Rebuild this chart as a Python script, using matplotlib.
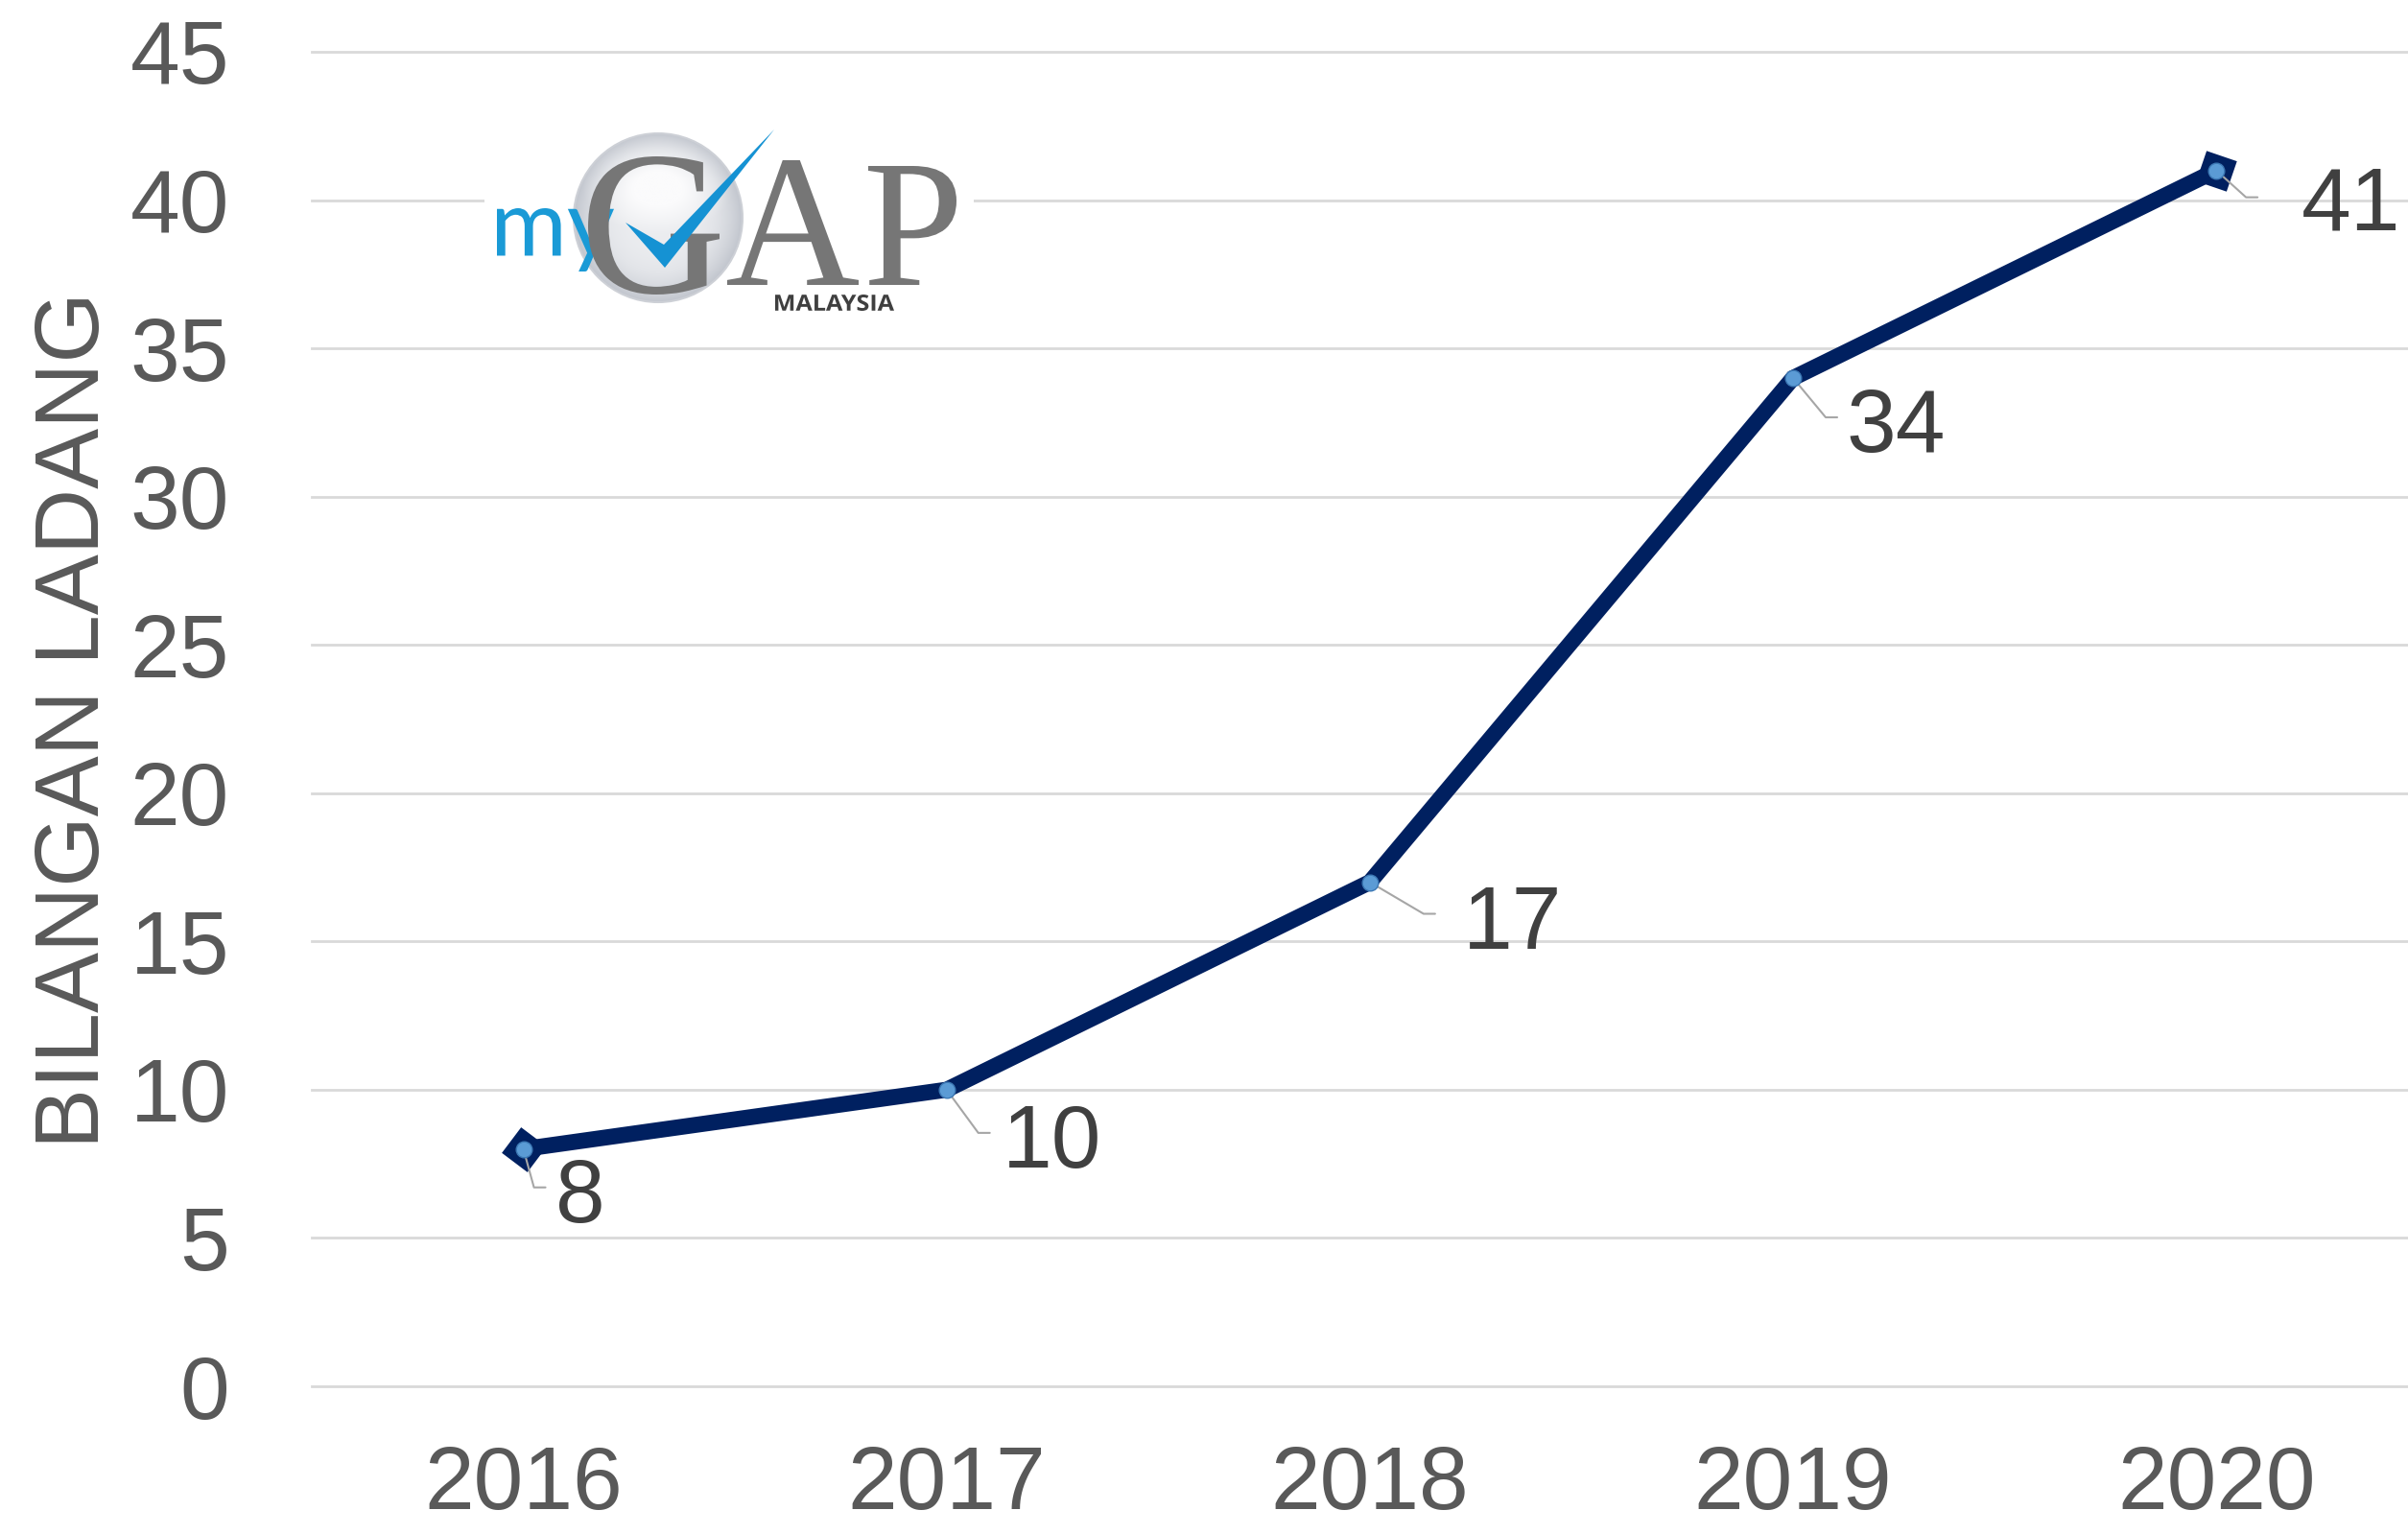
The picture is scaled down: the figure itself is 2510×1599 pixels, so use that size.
import numpy as np
import matplotlib
matplotlib.use("Agg")
import matplotlib.pyplot as plt
from matplotlib.patches import Circle, Rectangle, PathPatch, Polygon
from matplotlib.textpath import TextPath
from matplotlib.font_manager import FontProperties
from matplotlib.transforms import Affine2D
from matplotlib.colors import LinearSegmentedColormap

# data
years = ["2016", "2017", "2018", "2019", "2020"]
farms = [8, 10, 17, 34, 41]
y_ticks = [0, 5, 10, 15, 20, 25, 30, 35, 40, 45]

# label placement (pixel offsets from point): text centre, leader corner, leader tail
label_offsets = [(59, -42), (110, -47), (149, -35), (107, -43), (140, -28)]
leader_corners = [(11, -40), (33, -45), (56, -33), (34, -41), (31, -28)]
leader_tail = 12

navy = "#002060"
grey_text = "#595959"

plt.rcParams["font.family"] = ["Liberation Sans", "DejaVu Sans"]

W, H = 2510, 1599
fig = plt.figure(figsize=(W / 100, H / 100), dpi=100)
ax = fig.add_axes([325 / W, 1 - 1445 / H, (W - 325) / W, (1445 - 54) / H])

x = np.arange(len(years))
ax.set_xlim(-0.5, 4.453)
ax.set_ylim(0, 45)
ax.set_yticks(y_ticks)
ax.set_xticks(x)
ax.set_xticklabels(years)
ax.tick_params(axis="both", length=0, labelsize=67, colors=grey_text)
ax.tick_params(axis="y", pad=62)
ax.tick_params(axis="x", pad=44)
for s in ax.spines.values():
    s.set_visible(False)
ax.yaxis.grid(True, color="#d9d9d9", lw=2)
for gl in ax.get_ygridlines():
    gl.set_clip_on(False)
ax.set_axisbelow(True)

ax.plot(x, farms, color=navy, lw=12, solid_joinstyle="miter",
        solid_capstyle="butt", zorder=3)

# diamond line ends, rotated with the line direction
pts = ax.transData.transform(np.column_stack([x, farms]))
a0 = np.degrees(np.arctan2(pts[1, 1] - pts[0, 1], pts[1, 0] - pts[0, 0]))
a1 = np.degrees(np.arctan2(pts[-1, 1] - pts[-2, 1], pts[-1, 0] - pts[-2, 0]))
ax.plot(x[:1], farms[:1], marker=(4, 0, a0), ms=34, color=navy, mew=0, zorder=4)
ax.plot(x[-1:], farms[-1:], marker=(4, 0, a1), ms=34, color=navy, mew=0, zorder=4)

ax.plot(x, farms, "o", ms=12, mfc="#5b9bd5", mec="#3c78b4", mew=1, zorder=6)

for i, v in enumerate(farms):
    cx, cy = leader_corners[i]
    ang = np.degrees(np.arctan2(cy, cx))
    ax.annotate("", xy=(i, v), xytext=(cx + leader_tail, cy),
                textcoords="offset pixels",
                arrowprops=dict(arrowstyle="-", color="#a6a6a6", lw=1.5,
                                shrinkA=0, shrinkB=0,
                                connectionstyle=f"angle,angleA=0,angleB={ang},rad=0"),
                zorder=5)
    dx, dy = label_offsets[i]
    ax.annotate(str(v), xy=(i, v), xytext=(dx, dy - 34), textcoords="offset pixels",
                ha="center", va="baseline", fontsize=67, color="#404040", zorder=7)

fig.text(79 / W, 1 - 751 / H, "BILANGAN LADANG", rotation=90, ha="center",
         va="center", fontsize=68, color=grey_text)

# logo
lx0, lx1, ly0, ly1 = 505, 1015, 128, 332
lax = fig.add_axes([lx0 / W, 1 - ly1 / H, (lx1 - lx0) / W, (ly1 - ly0) / H])
lax.set_axis_off()
lax.add_patch(Rectangle((lx0, ly0), lx1 - lx0, ly1 - ly0, color="white", zorder=0))

ccx, ccy, r = 686, 227, 88
gx, gy = np.meshgrid(np.linspace(-1, 1, 200), np.linspace(-1, 1, 200))
d = np.sqrt(gx ** 2 + gy ** 2)
hl = np.sqrt((gx * 1.1) ** 2 + ((gy + 0.4) * 1.7) ** 2)
shade = 0.55 * np.clip(1 - d ** 3, 0, 1) + 0.45 * np.clip(1 - hl, 0, 1)
sphere_cmap = LinearSegmentedColormap.from_list("sphere", ["#c2c6ce", "#e3e5e9", "#fbfbfc"])
circ = Circle((ccx, ccy), r, facecolor="none", edgecolor="#cdd0d6", lw=1.5, zorder=2)
im = lax.imshow(shade, cmap=sphere_cmap, vmin=0, vmax=0.8, origin="upper",
                extent=(ccx - r, ccx + r, ccy + r, ccy - r), zorder=1)
lax.add_patch(circ)
im.set_clip_path(circ)
lax.set_xlim(lx0, lx1)
lax.set_ylim(ly1, ly0)
lax.set_aspect("auto")


def logo_text(s, x0, x1, ytop, ybot, color, family, weight="normal", z=3):
    tp = TextPath((0, 0), s, size=100, prop=FontProperties(family=family, weight=weight))
    bb = tp.get_extents()
    tr = (Affine2D().translate(-bb.x0, -bb.y0)
          .scale((x1 - x0) / bb.width, -(ybot - ytop) / bb.height)
          .translate(x0, ybot))
    lax.add_patch(PathPatch(tr.transform_path(tp), color=color, lw=0, zorder=z))


logo_text("my", 518, 640, 217, 283, "#1a9ad6", "Lato")
logo_text("G", 613, 750, 163, 307, "#767676", "Liberation Serif")
lax.add_patch(Polygon([(652, 232), (692, 255), (807, 135), (693, 279)],
                      closed=True, color="#1592d3", lw=0, zorder=4))
logo_text("A", 758, 895, 167, 297, "#767676", "Liberation Serif")
logo_text("P", 905, 997, 173, 297, "#767676", "Liberation Serif")
logo_text("MALAYSIA", 808, 932, 307, 324, "#3f3f3f", "Open Sans", "bold")

fig.savefig("out.png", dpi=100)
